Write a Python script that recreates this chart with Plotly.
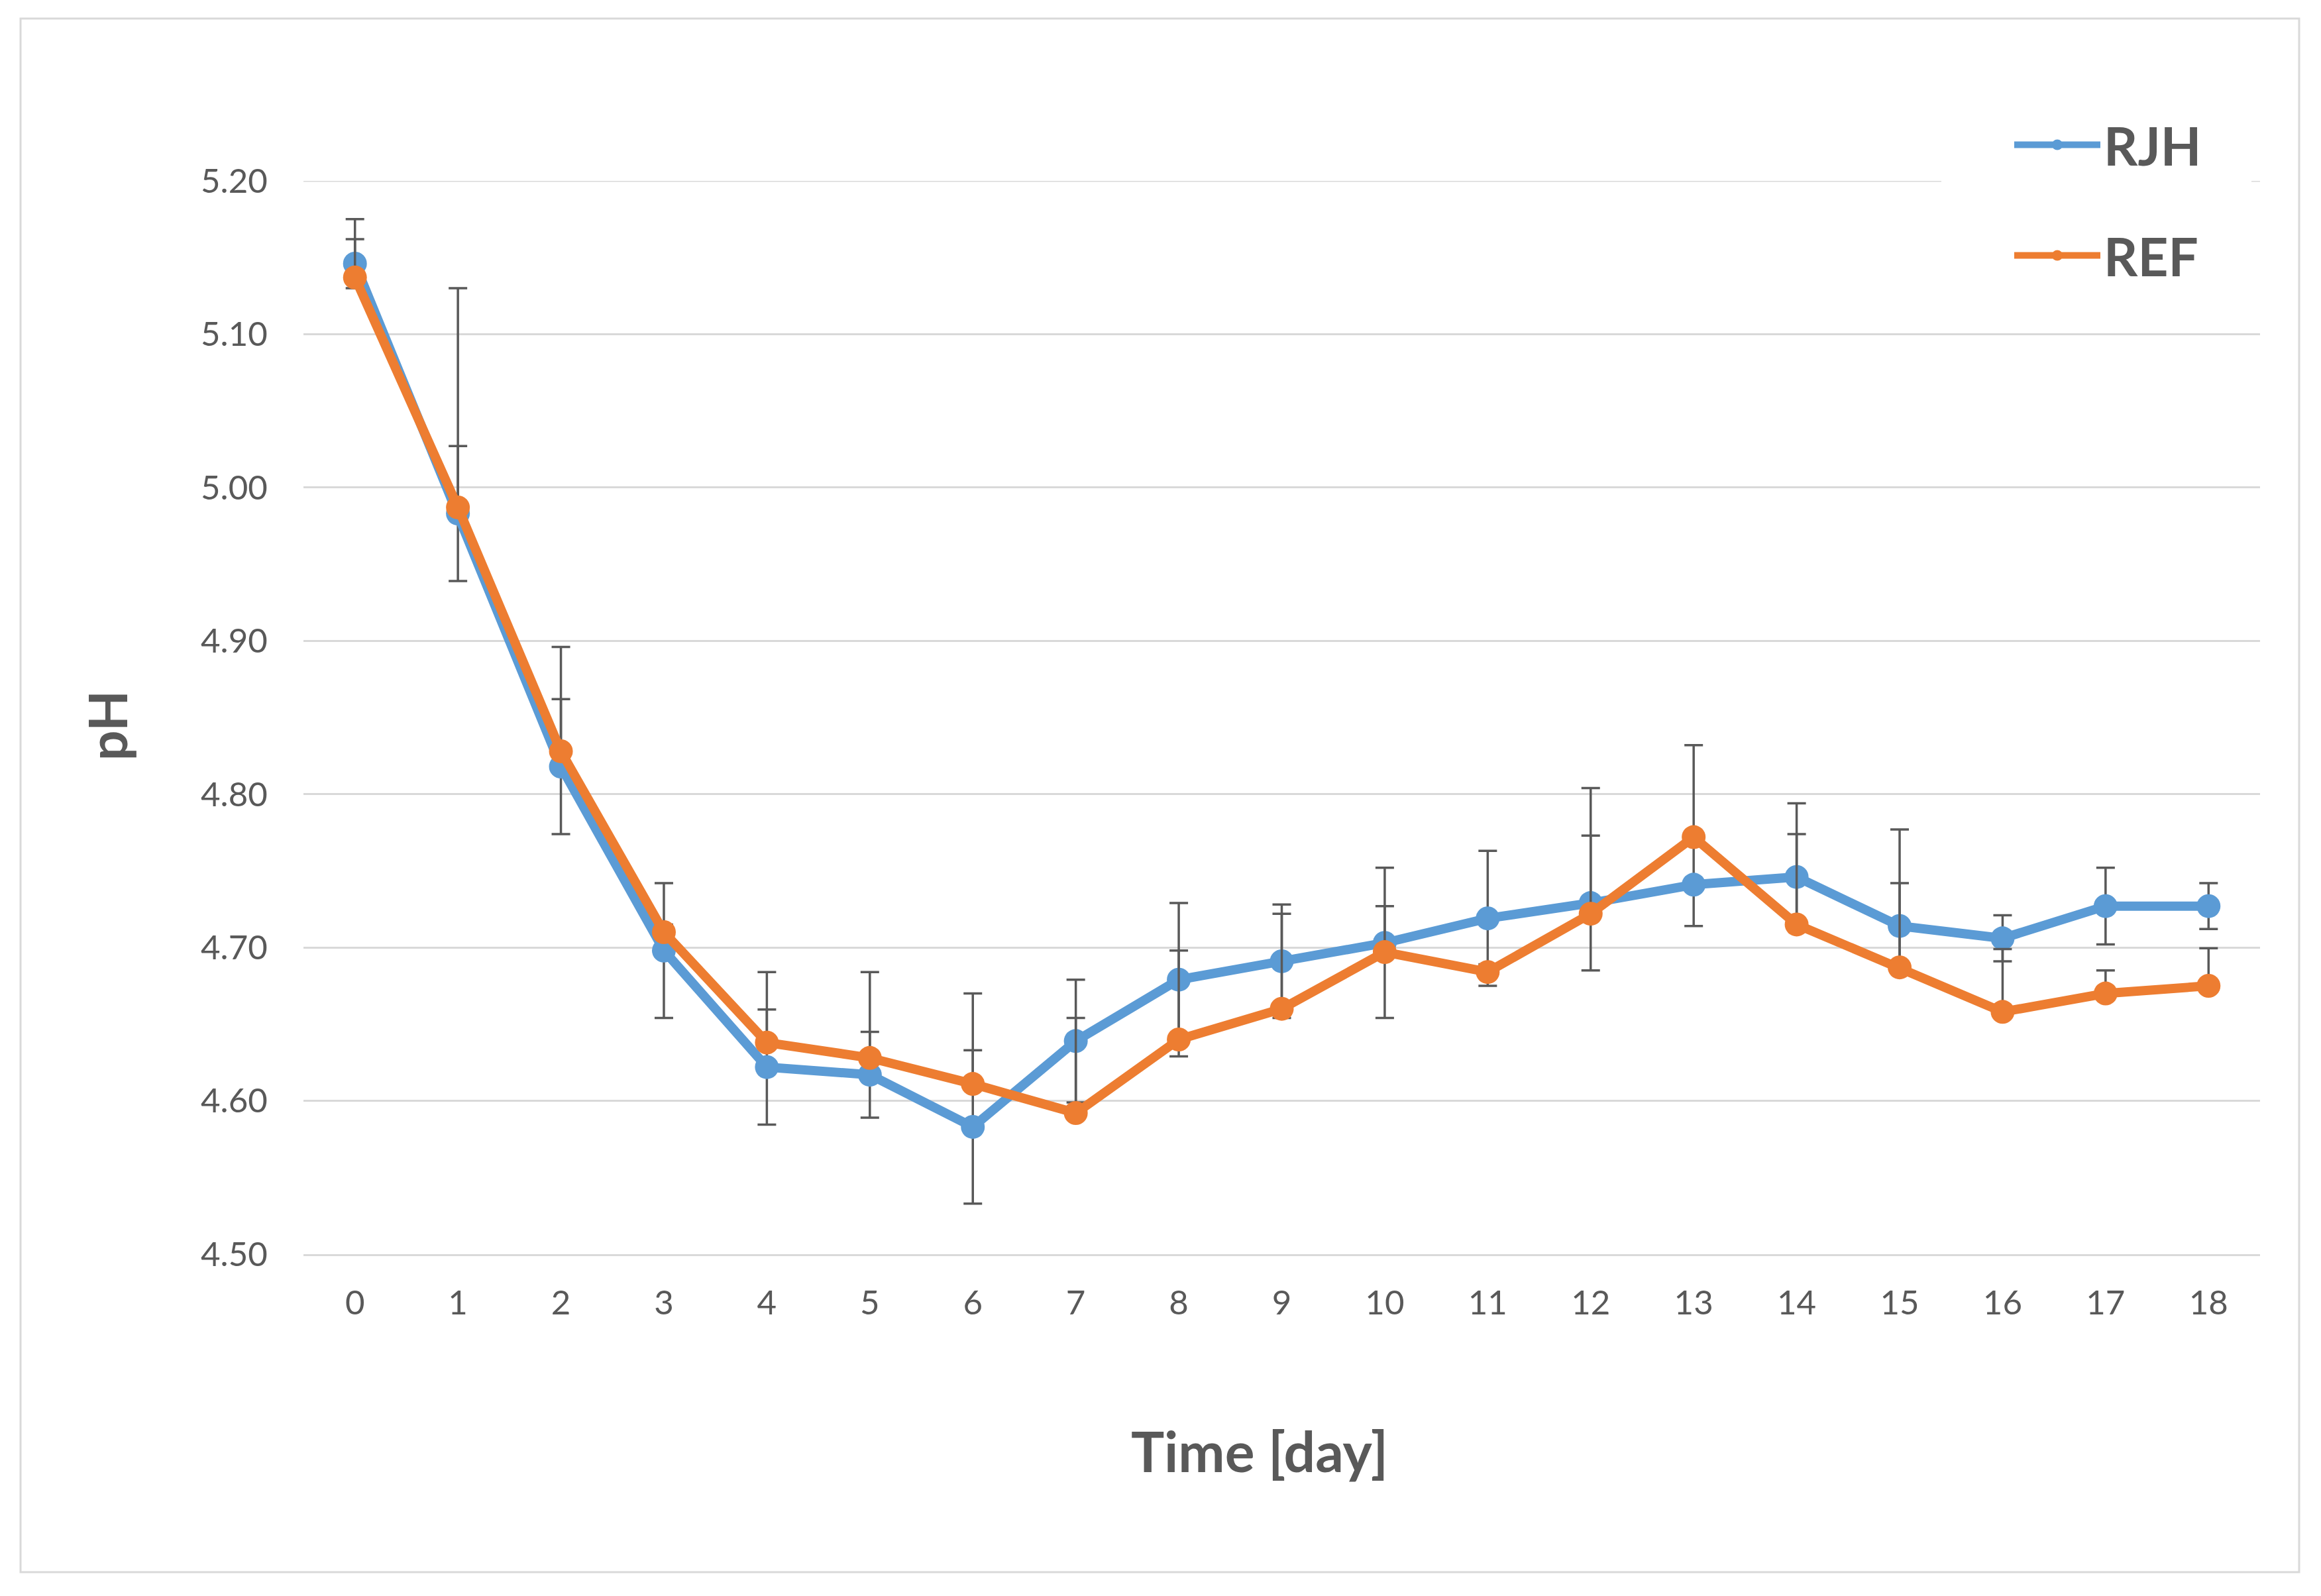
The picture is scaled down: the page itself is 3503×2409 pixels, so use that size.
import plotly.graph_objects as go

days = list(range(19))
day_labels = [str(d) for d in days]

rjh = [5.146, 4.983, 4.818, 4.698, 4.622, 4.617, 4.583, 4.639, 4.679, 4.691,
       4.703, 4.719, 4.729, 4.741, 4.746, 4.714, 4.706, 4.727, 4.727]
rjh_err = [0.016, 0.044, 0.044, 0.044, 0.0375, 0.028, 0.050, 0.040, 0.050, 0.037,
           0.049, 0.044, 0.044, 0.027, 0.028, 0.028, 0.015, 0.025, 0.015]

ref = [5.137, 4.987, 4.828, 4.710, 4.638, 4.628, 4.611, 4.592, 4.640, 4.660,
       4.697, 4.684, 4.722, 4.772, 4.715, 4.687, 4.658, 4.670, 4.675]
ref_err_plus = [0.038, 0.143, 0.068, 0.005, 0.046, 0.056, 0.059, 0.062, 0.058, 0.062,
                0.030, 0.005, 0.082, 0.060, 0.079, 0.090, 0.041, 0.015, 0.0245]
ref_err_minus = [0.0] * 19

y_ticks = [4.5, 4.6, 4.7, 4.8, 4.9, 5.0, 5.1, 5.2]
y_min, y_max = 4.5, 5.2

W, H = 3503, 2409
L, R, T, B = 458, 3411, 273, 1893

BLUE = "#5B9BD5"
ORANGE = "#ED7D31"
GREY_TXT = "#595959"
GRID = "#D9D9D9"
FONT = "Lato"

fig = go.Figure()
fig.add_trace(go.Scatter(
    x=days, y=rjh, name="RJH", mode="lines+markers", legendgroup="a",
    line=dict(color=BLUE, width=14),
    marker=dict(color=BLUE, size=36),
    error_y=dict(type="data", array=rjh_err, symmetric=True,
                 color=GREY_TXT, thickness=3.5, width=14),
))
fig.add_trace(go.Scatter(
    x=days, y=ref, name="REF", mode="lines+markers", legendgroup="b",
    line=dict(color=ORANGE, width=14),
    marker=dict(color=ORANGE, size=36),
    error_y=dict(type="data", array=ref_err_plus, arrayminus=ref_err_minus,
                 symmetric=False, color=GREY_TXT, thickness=3.5, width=14),
))

def px(xp):
    return (xp - L) / (R - L)

def py(yp):
    return (B - yp) / (B - T)

fig.update_layout(
    width=W, height=H,
    margin=dict(l=L, r=W - R, t=T, b=H - B, autoexpand=False),
    paper_bgcolor="white", plot_bgcolor="white",
    font=dict(family=FONT, color=GREY_TXT),
    showlegend=True,
    legend=dict(
        x=px(3035), xanchor="left", y=py(160), yanchor="top",
        bgcolor="white", borderwidth=0,
        font=dict(family=FONT, size=80, color=GREY_TXT, weight="bold"),
        itemwidth=130, tracegroupgap=60,
    ),
    xaxis=dict(
        range=[-0.5, 18.5], tickmode="array", tickvals=days, ticktext=day_labels,
        showgrid=False, zeroline=False,
        showline=True, linecolor=GRID, linewidth=3,
        ticks="outside", ticklen=27, tickcolor="rgba(0,0,0,0)",
        tickfont=dict(family=FONT, size=51, color=GREY_TXT),
    ),
    yaxis=dict(
        range=[y_min, y_max], tickmode="array", tickvals=y_ticks,
        tickformat=".2f",
        showgrid=True, gridcolor=GRID, gridwidth=3,
        zeroline=False, showline=False,
        ticks="outside", ticklen=43, tickcolor="rgba(0,0,0,0)",
        tickfont=dict(family=FONT, size=51, color=GREY_TXT),
    ),
    annotations=[
        dict(text="<b>Time [day]</b>", xref="paper", yref="paper",
             x=px(1901), y=py(2189), xanchor="center", yanchor="middle",
             showarrow=False, font=dict(family=FONT, size=84, color=GREY_TXT)),
        dict(text="<b>pH</b>", xref="paper", yref="paper",
             x=px(161), y=py(1095), xanchor="center", yanchor="middle",
             textangle=-90, showarrow=False,
             font=dict(family=FONT, size=80, color=GREY_TXT)),
    ],
    shapes=[
        dict(type="rect", xref="paper", yref="paper",
             x0=px(31), x1=px(3470), y0=py(2373), y1=py(28),
             line=dict(color=GRID, width=3), fillcolor="rgba(0,0,0,0)", layer="below"),
        # top gridline at the range edge (plotly clips edge gridlines),
        # interrupted where the legend box sits
        dict(type="line", xref="paper", yref="y", x0=0, x1=px(2930), y0=y_max, y1=y_max,
             line=dict(color=GRID, width=3), layer="below"),
        dict(type="line", xref="paper", yref="y", x0=px(3398), x1=1, y0=y_max, y1=y_max,
             line=dict(color=GRID, width=3), layer="below"),
    ],
)

fig.write_html("out.html")
